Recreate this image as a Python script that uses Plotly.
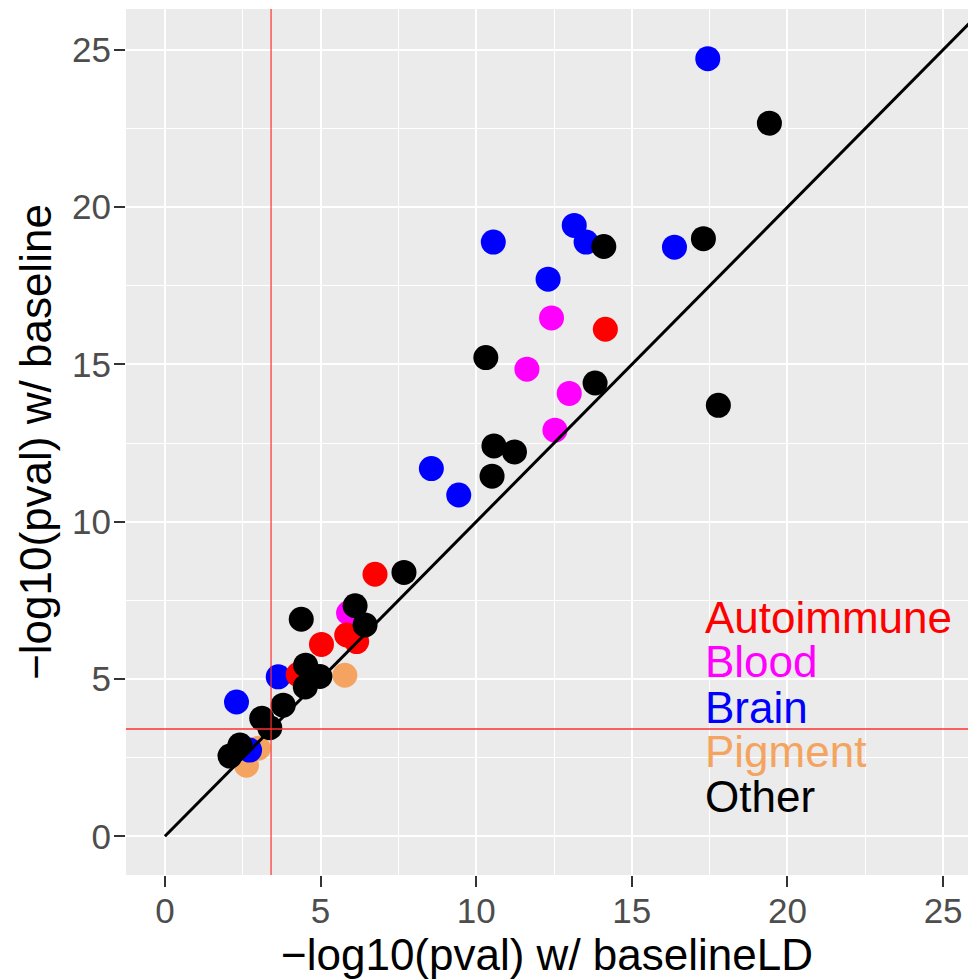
import plotly.graph_objects as go

# ---- data ----
categories = ["Pigment", "Brain", "Blood", "Autoimmune", "Other"]
colors = {"Autoimmune": "#FF0000", "Blood": "#FF00FF", "Brain": "#0000FF",
          "Pigment": "#F4A460", "Other": "#000000"}

autoimmune_x = [14.15, 6.75, 5.03, 5.84, 6.16, 4.28]
autoimmune_y = [16.12, 8.33, 6.10, 6.40, 6.19, 5.14]

blood_x = [12.42, 11.63, 12.99, 12.53, 5.90]
blood_y = [16.48, 14.85, 14.08, 12.91, 7.10]

brain_x = [17.44, 10.55, 13.15, 13.53, 12.31, 16.37, 8.56, 9.44, 3.64, 2.30, 2.72]
brain_y = [24.72, 18.89, 19.42, 18.89, 17.71, 18.73, 11.69, 10.85, 5.07, 4.27, 2.74]

pigment_x = [5.78, 3.00, 2.62]
pigment_y = [5.12, 2.80, 2.26]

other_x = [19.42, 17.30, 17.78, 14.10, 10.31, 13.82, 10.57, 11.23, 10.51, 7.68, 6.11,
           6.43, 4.38, 4.52, 4.98, 4.51, 3.80, 3.11, 3.37, 2.41, 2.09]
other_y = [22.67, 19.00, 13.70, 18.75, 15.22, 14.41, 12.41, 12.22, 11.45, 8.39, 7.33,
           6.72, 6.90, 5.44, 5.08, 4.75, 4.17, 3.75, 3.45, 2.90, 2.55]

series = {
    "Pigment": (pigment_x, pigment_y),
    "Brain": (brain_x, brain_y),
    "Blood": (blood_x, blood_y),
    "Autoimmune": (autoimmune_x, autoimmune_y),
    "Other": (other_x, other_y),
}

legend_labels = ["Autoimmune", "Blood", "Brain", "Pigment", "Other"]
legend_y = [6.95, 5.57, 4.09, 2.71, 1.28]
legend_x = 17.29

threshold = 3.41
diag = [0, 26]

x_ticks = [0, 5, 10, 15, 20, 25]
y_ticks = [0, 5, 10, 15, 20, 25]

# ---- figure ----
fig = go.Figure()
for cat in categories:
    xs, ys = series[cat]
    fig.add_trace(go.Scatter(x=xs, y=ys, mode="markers", name=cat,
                             marker=dict(size=25, color=colors[cat], line=dict(width=0)),
                             showlegend=False))

fig.add_trace(go.Scatter(x=diag, y=diag, mode="lines",
                         line=dict(color="black", width=3), showlegend=False))

fig.add_shape(type="line", xref="x", yref="paper", x0=threshold, x1=threshold, y0=0, y1=1,
              line=dict(color="#FF3030", width=1.2), layer="above")
fig.add_shape(type="line", xref="paper", yref="y", x0=0, x1=1, y0=threshold, y1=threshold,
              line=dict(color="#FF3030", width=1.6), layer="above")

for lab, ly in zip(legend_labels, legend_y):
    fig.add_annotation(x=legend_x, y=ly, xref="x", yref="y", text=lab, showarrow=False,
                       xanchor="left", yanchor="middle",
                       font=dict(size=44, color=colors[lab], family="Liberation Sans, Arial"))

axis_common = dict(
    showgrid=True, gridcolor="white", gridwidth=2,
    zeroline=False, showline=False,
    ticks="outside", ticklen=11, tickwidth=2, tickcolor="#333333",
    tickfont=dict(size=35, color="#4D4D4D", family="Liberation Sans, Arial"),
    minor=dict(dtick=2.5, tick0=0, showgrid=True, gridcolor="white", gridwidth=1, ticks=""),
)

fig.update_xaxes(range=[-1.25, 25.8], tickvals=x_ticks, ticklabelstandoff=-6,
                 title=dict(text="−log10(pval) w/ baselineLD", standoff=4,
                            font=dict(size=44, color="black", family="Liberation Sans, Arial")),
                 **axis_common)
fig.update_yaxes(range=[-1.23, 26.3], tickvals=y_ticks, ticklabelstandoff=-4,
                 title=dict(text="−log10(pval) w/ baseline", standoff=6,
                            font=dict(size=44, color="black", family="Liberation Sans, Arial")),
                 **axis_common)

fig.update_layout(
    width=968, height=979,
    margin=dict(l=126, r=0, t=9, b=104),
    plot_bgcolor="#EBEBEB", paper_bgcolor="white",
    showlegend=False,
)

fig.write_html("out.html", config={"displayModeBar": False},
               post_script="document.body.style.margin='0';document.body.style.overflow='hidden';")
